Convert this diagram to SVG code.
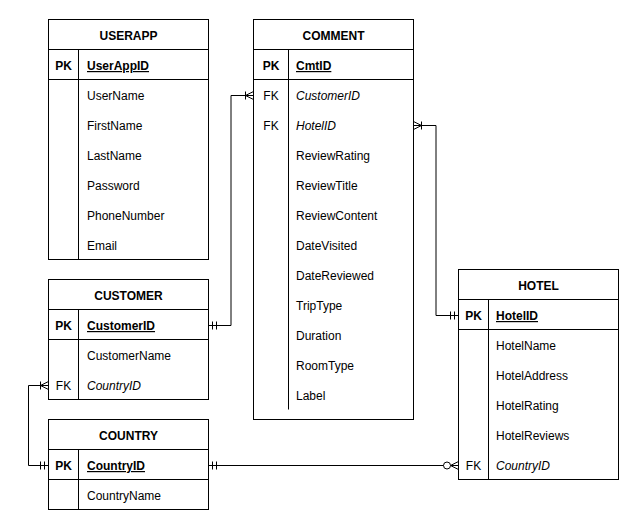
<svg xmlns="http://www.w3.org/2000/svg" width="639" height="531" viewBox="0 0 639 531">
<style>
  text { font-family: "Liberation Sans", Arial, Helvetica, sans-serif; font-size: 12px; fill: #000; }
  .box { fill: #fff; stroke: #000; stroke-width: 1; }
  .ln { stroke: #000; stroke-width: 1; fill: none; }
  .hd { font-weight: bold; text-anchor: middle; }
  .key { font-weight: bold; text-anchor: middle; }
  .fk { text-anchor: middle; }
  .pk { font-weight: bold; text-decoration: underline; }
  .it { font-style: italic; }
  .mk { stroke: #000; stroke-width: 1; fill: none; }
  .conn { stroke: #000; stroke-width: 1; fill: none; }
</style>
<defs>
  <marker id="mandOne" markerUnits="userSpaceOnUse" viewBox="-16 -8 18 16" markerWidth="18" markerHeight="16" refX="0" refY="0" orient="auto-start-reverse" overflow="visible">
    <path class="mk" d="M-4,-4 V4 M-8,-4 V4"/>
  </marker>
  <marker id="mandMany" markerUnits="userSpaceOnUse" viewBox="-16 -8 18 16" markerWidth="18" markerHeight="16" refX="0" refY="0" orient="auto-start-reverse" overflow="visible">
    <path class="mk" d="M0,-4 L-8,0 L0,4 M-8,-4 V4"/>
  </marker>
  <marker id="zeroMany" markerUnits="userSpaceOnUse" viewBox="-16 -8 18 16" markerWidth="18" markerHeight="16" refX="0" refY="0" orient="auto-start-reverse" overflow="visible">
    <path class="mk" d="M0,-4 L-8,0 L0,4"/>
    <circle cx="-11.5" cy="0" r="3.5" fill="#fff" stroke="#000" stroke-width="1"/>
  </marker>
</defs>
<rect width="639" height="531" fill="#fff"/>

<g id="connectors">
  <path class="conn" d="M208.5,325.5 H231 V95.5 H253.5" marker-start="url(#mandOne)" marker-end="url(#mandMany)"/>
  <path class="conn" d="M458.5,315.5 H436 V125.5 H413.5" marker-start="url(#mandOne)" marker-end="url(#mandMany)"/>
  <path class="conn" d="M48.5,465.5 H28.5 V385.5 H48.5" marker-start="url(#mandOne)" marker-end="url(#mandMany)"/>
  <path class="conn" d="M208.5,465.5 H458.5" marker-start="url(#mandOne)" marker-end="url(#zeroMany)"/>
</g>

<g id="userapp">
  <rect class="box" x="48.5" y="19.5" width="160" height="240"/>
  <path class="ln" d="M48.5,49.5 H208.5 M48.5,79.5 H208.5 M78.5,49.5 V259.5"/>
  <text class="hd" x="128.5" y="40">USERAPP</text>
  <text class="key" x="63.5" y="70">PK</text>
  <text class="pk" x="87" y="70">UserAppID</text>
  <text x="87" y="100">UserName</text>
  <text x="87" y="130">FirstName</text>
  <text x="87" y="160">LastName</text>
  <text x="87" y="190">Password</text>
  <text x="87" y="220">PhoneNumber</text>
  <text x="87" y="250">Email</text>
</g>

<g id="comment">
  <rect class="box" x="253.5" y="19.5" width="160" height="400"/>
  <path class="ln" d="M253.5,49.5 H413.5 M253.5,79.5 H413.5 M288.5,49.5 V409.5"/>
  <text class="hd" x="333.5" y="40">COMMENT</text>
  <text class="key" x="271" y="70">PK</text>
  <text class="pk" x="296" y="70">CmtID</text>
  <text class="fk" x="271" y="100">FK</text>
  <text class="it" x="296" y="100">CustomerID</text>
  <text class="fk" x="271" y="130">FK</text>
  <text class="it" x="296" y="130">HotelID</text>
  <text x="296" y="160">ReviewRating</text>
  <text x="296" y="190">ReviewTitle</text>
  <text x="296" y="220">ReviewContent</text>
  <text x="296" y="250">DateVisited</text>
  <text x="296" y="280">DateReviewed</text>
  <text x="296" y="310">TripType</text>
  <text x="296" y="340">Duration</text>
  <text x="296" y="370">RoomType</text>
  <text x="296" y="400">Label</text>
</g>

<g id="customer">
  <rect class="box" x="48.5" y="279.5" width="160" height="120"/>
  <path class="ln" d="M48.5,309.5 H208.5 M48.5,339.5 H208.5 M78.5,309.5 V399.5"/>
  <text class="hd" x="128.5" y="300">CUSTOMER</text>
  <text class="key" x="63.5" y="330">PK</text>
  <text class="pk" x="87" y="330">CustomerID</text>
  <text x="87" y="360">CustomerName</text>
  <text class="fk" x="63.5" y="390">FK</text>
  <text class="it" x="87" y="390">CountryID</text>
</g>

<g id="country">
  <rect class="box" x="48.5" y="419.5" width="160" height="90"/>
  <path class="ln" d="M48.5,449.5 H208.5 M48.5,479.5 H208.5 M78.5,449.5 V509.5"/>
  <text class="hd" x="128.5" y="440">COUNTRY</text>
  <text class="key" x="63.5" y="470">PK</text>
  <text class="pk" x="87" y="470">CountryID</text>
  <text x="87" y="500">CountryName</text>
</g>

<g id="hotel">
  <rect class="box" x="458.5" y="269.5" width="160" height="210"/>
  <path class="ln" d="M458.5,299.5 H618.5 M458.5,329.5 H618.5 M488.5,299.5 V479.5"/>
  <text class="hd" x="538.5" y="290">HOTEL</text>
  <text class="key" x="473.5" y="320">PK</text>
  <text class="pk" x="496" y="320">HotelID</text>
  <text x="496" y="350">HotelName</text>
  <text x="496" y="380">HotelAddress</text>
  <text x="496" y="410">HotelRating</text>
  <text x="496" y="440">HotelReviews</text>
  <text class="fk" x="473.5" y="470">FK</text>
  <text class="it" x="496" y="470">CountryID</text>
</g>
</svg>
